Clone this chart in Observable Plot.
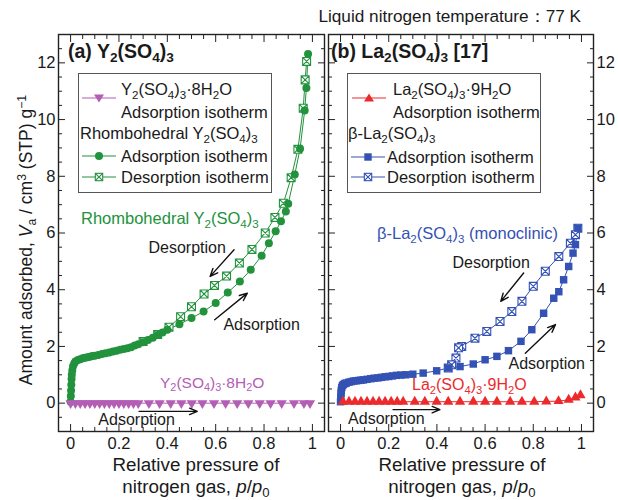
<!DOCTYPE html>
<html>
<head>
<meta charset="utf-8">
<script src="https://cdn.jsdelivr.net/npm/d3@7"></script>
<script src="https://cdn.jsdelivr.net/npm/@observablehq/plot@0.6"></script>
<style>
html,body{margin:0;padding:0;background:#fff;}
#wrap{position:relative;width:618px;height:500px;overflow:hidden;font-family:"Liberation Sans",Arial,Helvetica,sans-serif;color:#1a1a1a;background:#fff;}
.t{position:absolute;white-space:nowrap;line-height:1;}
.t sub{font-size:0.7em;vertical-align:-0.32em;line-height:0;}
.t sup{font-size:0.7em;vertical-align:0.5em;line-height:0;}
.legend{position:absolute;border:1px solid #555;background:#fff;box-sizing:border-box;}
</style>
</head>
<body>
<div id="wrap"></div>
<script>
// ---------- colours ----------
const green = "#22923d", magenta = "#b35db5", red = "#ec2a2c", blue = "#3451b4";

// ---------- (a) Y2(SO4)3 ----------
// Rhombohedral Y2(SO4)3, adsorption (filled circles)
const y2AnhAdsX = [0.000,0.001,0.002,0.003,0.004,0.005,0.007,0.010,0.015,0.020,0.030,0.040,0.050,0.060,0.070,0.080,0.090,0.100,0.115,0.130,0.145,0.160,0.175,0.190,0.205,0.220,0.235,0.250,0.265,0.280,0.300,0.320,0.340,0.360,0.380,0.400,0.450,0.500,0.550,0.600,0.650,0.700,0.745,0.790,0.820,0.848,0.870,0.890,0.900,0.927,0.949,0.968,0.975,0.982];
const y2AnhAdsY = [0.05,0.25,0.45,0.65,0.85,1.00,1.15,1.30,1.40,1.47,1.52,1.55,1.58,1.60,1.62,1.64,1.66,1.67,1.70,1.73,1.76,1.79,1.82,1.85,1.88,1.91,1.94,1.97,2.03,2.08,2.15,2.23,2.31,2.40,2.49,2.59,2.78,3.00,3.23,3.53,3.90,4.29,4.70,5.20,5.64,6.06,6.41,6.76,7.03,8.06,8.97,10.32,11.11,12.31];
// Rhombohedral Y2(SO4)3, desorption (boxed crosses)
const y2AnhDesX = [0.976,0.970,0.962,0.940,0.912,0.880,0.845,0.805,0.750,0.698,0.645,0.595,0.552,0.500,0.455,0.407,0.360,0.300];
const y2AnhDesY = [12.05,11.40,10.40,8.95,7.95,7.05,6.55,6.00,5.42,4.94,4.48,4.15,3.85,3.40,3.05,2.68,2.42,2.17];
// Y2(SO4)3·8H2O, adsorption (down triangles)
const y2HydAdsX = [0.000,0.020,0.040,0.060,0.080,0.100,0.120,0.140,0.160,0.180,0.200,0.220,0.240,0.260,0.280,0.324,0.368,0.414,0.458,0.501,0.545,0.593,0.641,0.689,0.735,0.782,0.827,0.873,0.924,0.965,0.990];
const y2HydAdsY = [0,0,0,0,0,0,0,0,0,0,0,0,0,0,0,0,0,0,0,0,0,0,0,0,0,0,0,0,0,0,0];

// ---------- (b) La2(SO4)3 ----------
// beta-La2(SO4)3, adsorption (filled squares)
const laBetaAdsX = [0.000,0.001,0.002,0.003,0.005,0.008,0.012,0.018,0.024,0.035,0.045,0.055,0.065,0.075,0.085,0.095,0.110,0.125,0.140,0.155,0.170,0.185,0.200,0.215,0.232,0.250,0.270,0.300,0.343,0.399,0.447,0.496,0.551,0.600,0.649,0.697,0.749,0.794,0.843,0.885,0.906,0.926,0.947,0.965,0.975,0.985];
const laBetaAdsY = [0.05,0.20,0.35,0.45,0.55,0.62,0.66,0.69,0.71,0.74,0.76,0.78,0.79,0.80,0.81,0.82,0.84,0.86,0.88,0.89,0.91,0.93,0.94,0.96,0.98,0.99,1.00,1.02,1.06,1.14,1.24,1.29,1.38,1.53,1.65,1.85,2.18,2.59,3.17,3.70,3.93,4.35,4.82,5.29,5.59,6.17];
// beta-La2(SO4)3, desorption (boxed crosses)
const laBetaDesX = [0.985,0.975,0.954,0.906,0.850,0.800,0.753,0.711,0.662,0.607,0.558,0.503,0.490,0.479,0.461,0.447];
const laBetaDesY = [6.17,5.94,5.64,5.17,4.65,4.12,3.59,3.23,2.88,2.53,2.29,2.00,1.95,1.59,1.35,1.24];
// La2(SO4)3·9H2O, adsorption (up triangles)
const laHydAdsX = [0.010,0.035,0.060,0.085,0.110,0.135,0.160,0.185,0.210,0.235,0.260,0.308,0.350,0.399,0.447,0.496,0.551,0.600,0.649,0.704,0.753,0.804,0.854,0.905,0.947,0.975,0.996];
const laHydAdsY = [0.05,0.05,0.05,0.05,0.05,0.05,0.05,0.05,0.05,0.05,0.05,0.05,0.05,0.05,0.05,0.05,0.05,0.05,0.05,0.05,0.05,0.05,0.06,0.07,0.12,0.20,0.28];

// ---------- ticks ----------
const xMajorTicks = [0, 0.2, 0.4, 0.6, 0.8, 1];
const xMinorTicks = [0.05,0.1,0.15,0.25,0.3,0.35,0.45,0.5,0.55,0.65,0.7,0.75,0.85,0.9,0.95];
const yMajorTicks = [0, 2, 4, 6, 8, 10, 12];
const yMinorTicks = [-0.5,0.5,1,1.5,2.5,3,3.5,4.5,5,5.5,6.5,7,7.5,8.5,9,9.5,10.5,11,11.5,12.5];

// ---------- annotations ----------
const arrowsLeft = [
  {x1:0.676, y1:5.41, x2:0.577, y2:4.47},
  {x1:0.596, y1:2.94, x2:0.731, y2:3.88},
  {x1:0.283, y1:-0.29, x2:0.524, y2:-0.29}
];
const arrowsRight = [
  {x1:0.760, y1:4.59, x2:0.665, y2:3.59},
  {x1:0.767, y1:1.76, x2:0.892, y2:2.77},
  {x1:0.218, y1:-0.23, x2:0.4125, y2:-0.23}
];
const notesLeft = [
  {x:0.482, y:5.47, text:"Desorption"},
  {x:0.790, y:2.77, text:"Adsorption"},
  {x:0.273, y:-0.59, text:"Adsorption"}
];
const notesRight = [
  {x:0.625, y:4.94, text:"Desorption"},
  {x:0.856, y:1.39, text:"Adsorption"},
  {x:0.190, y:-0.55, text:"Adsorption"}
];
const legendLeftLabels = ["Y<sub>2</sub>(SO<sub>4</sub>)<sub>3</sub>·8H<sub>2</sub>O","Adsorption isotherm","Rhombohedral Y<sub>2</sub>(SO<sub>4</sub>)<sub>3</sub>","Adsorption isotherm","Desorption isotherm"];
const legendRightLabels = ["La<sub>2</sub>(SO<sub>4</sub>)<sub>3</sub>·9H<sub>2</sub>O","Adsorption isotherm","β-La<sub>2</sub>(SO<sub>4</sub>)<sub>3</sub>","Adsorption isotherm","Desorption isotherm"];

// ---------- helpers ----------
const zip = (xs, ys) => xs.map((x, i) => ({x, y: ys[i]}));
const boxX = {
  draw(ctx, size) {
    const s = Math.sqrt(size / Math.PI) * 0.88;
    ctx.moveTo(-s, -s); ctx.lineTo(s, -s); ctx.lineTo(s, s); ctx.lineTo(-s, s); ctx.closePath();
    ctx.moveTo(-s, -s); ctx.lineTo(s, s);
    ctx.moveTo(s, -s); ctx.lineTo(-s, s);
  }
};
const wrap = document.getElementById("wrap");
function addPlot(p, left) {
  const d = document.createElement("div");
  d.style.cssText = `position:absolute;left:${left}px;top:0;`;
  d.appendChild(p);
  wrap.appendChild(d);
}
function addText(html, x, yc, fs, {anchor = "start", color = "#1a1a1a", weight = "normal"} = {}) {
  const d = document.createElement("div");
  d.className = "t";
  d.innerHTML = html;
  d.style.fontSize = fs + "px";
  d.style.color = color;
  d.style.fontWeight = weight;
  d.style.top = (yc - 0.49 * fs) + "px";
  if (anchor === "start") d.style.left = x + "px";
  else if (anchor === "middle") { d.style.left = x + "px"; d.style.transform = "translateX(-50%)"; }
  else d.style.right = (618 - x) + "px";
  wrap.appendChild(d);
  return d;
}
function legendSym(kind, color, x, yc) {
  let m = "";
  if (kind === "circle") m = `<circle cx="17" cy="7" r="4" fill="${color}"/>`;
  if (kind === "square") m = `<rect x="13.3" y="3.3" width="7.4" height="7.4" fill="${color}"/>`;
  if (kind === "boxx") m = `<rect x="13.3" y="3.3" width="7.4" height="7.4" fill="#fff" stroke="${color}" stroke-width="1.1"/><path d="M13.3,3.3L20.7,10.7M20.7,3.3L13.3,10.7" stroke="${color}" stroke-width="1.1"/>`;
  if (kind === "tridown") m = `<path d="M12,3.5L22,3.5L17,11.5Z" fill="${color}"/>`;
  if (kind === "triup") m = `<path d="M12,10.5L22,10.5L17,2.5Z" fill="${color}"/>`;
  const s = document.createElement("div");
  s.style.cssText = `position:absolute;left:${x}px;top:${yc - 7}px;width:34px;height:14px;`;
  s.innerHTML = `<svg width="34" height="14"><line x1="0" y1="7" x2="34" y2="7" stroke="${color}" stroke-width="1.2"/>${m}</svg>`;
  wrap.appendChild(s);
}

function panel({width, marginLeft, marginRight, labelSide, marks}) {
  const ink = "#222";
  const axes = [];
  for (const anchor of ["top", "bottom"]) {
    axes.push(Plot.axisX(xMinorTicks, {anchor, tickSize: -4, tickFormat: () => "", label: null, stroke: ink}));
    axes.push(Plot.axisX(xMajorTicks, {anchor, tickSize: -7, tickPadding: anchor === "bottom" ? 13 : 7,
      tickFormat: anchor === "bottom" ? (d => String(d)) : () => "", label: null, stroke: ink, fontSize: 16.5}));
  }
  for (const anchor of ["left", "right"]) {
    axes.push(Plot.axisY(yMinorTicks, {anchor, tickSize: -4, tickFormat: () => "", label: null, stroke: ink}));
    axes.push(Plot.axisY(yMajorTicks, {anchor, tickSize: -7, tickPadding: 10,
      tickFormat: anchor === labelSide ? (d => String(d)) : () => "", label: null, stroke: ink, fontSize: 16.5}));
  }
  return Plot.plot({
    width, height: 460, marginTop: 34, marginBottom: 29, marginLeft, marginRight,
    x: {domain: [-0.05, 1.05], label: null},
    y: {domain: [-1, 13], label: null},
    style: {fontFamily: '"Liberation Sans", Arial, sans-serif', fontSize: "16px", color: "#1a1a1a", background: "none", overflow: "visible"},
    marks: [...marks, ...axes, Plot.frame({stroke: ink, strokeWidth: 1.4})]
  });
}

// ---------- panel (a) ----------
const y2AnhAds = zip(y2AnhAdsX, y2AnhAdsY);
const y2AnhDes = zip(y2AnhDesX, y2AnhDesY);
const y2HydAds = zip(y2HydAdsX, y2HydAdsY);
const left = panel({
  width: 326, marginLeft: 58, marginRight: 2, labelSide: "left",
  marks: [
    Plot.line(y2AnhDes, {x: "x", y: "y", stroke: green, strokeWidth: 1}),
    Plot.line(y2AnhAds, {x: "x", y: "y", stroke: green, strokeWidth: 1}),
    Plot.dot(y2AnhDes, {x: "x", y: "y", symbol: boxX, r: 4.5, fill: "white", stroke: green, strokeWidth: 1.1}),
    Plot.dot(y2AnhAds, {x: "x", y: "y", r: 4, fill: green}),
    Plot.line(y2HydAds, {x: "x", y: "y", stroke: magenta, strokeWidth: 1}),
    Plot.dot(y2HydAds, {x: "x", y: "y", symbol: "triangle", rotate: 180, r: 3.8, fill: magenta}),
    Plot.arrow(arrowsLeft, {x1: "x1", y1: "y1", x2: "x2", y2: "y2", stroke: "#111", strokeWidth: 1.4, headLength: 9, headAngle: 45}),
    Plot.text(notesLeft, {x: "x", y: "y", text: "text", fontSize: 16, fill: "#1a1a1a"})
  ]
});
addPlot(left, 0);

// ---------- panel (b) ----------
const laBetaAds = zip(laBetaAdsX, laBetaAdsY);
const laBetaDes = zip(laBetaDesX, laBetaDesY);
const laHydAds = zip(laHydAdsX, laHydAdsY);
const right = panel({
  width: 292, marginLeft: 2, marginRight: 25, labelSide: "right",
  marks: [
    Plot.line(laBetaDes, {x: "x", y: "y", stroke: blue, strokeWidth: 1}),
    Plot.line(laBetaAds, {x: "x", y: "y", stroke: blue, strokeWidth: 1}),
    Plot.dot(laBetaDes, {x: "x", y: "y", symbol: boxX, r: 4.5, fill: "white", stroke: blue, strokeWidth: 1.1}),
    Plot.dot(laBetaAds, {x: "x", y: "y", symbol: "square", r: 4.2, fill: blue}),
    Plot.line(laHydAds, {x: "x", y: "y", stroke: red, strokeWidth: 1}),
    Plot.dot(laHydAds, {x: "x", y: "y", symbol: "triangle", r: 3.8, fill: red}),
    Plot.arrow(arrowsRight, {x1: "x1", y1: "y1", x2: "x2", y2: "y2", stroke: "#111", strokeWidth: 1.4, headLength: 9, headAngle: 45}),
    Plot.text(notesRight, {x: "x", y: "y", text: "text", fontSize: 16, fill: "#1a1a1a"})
  ]
});
addPlot(right, 326);

// ---------- texts ----------
addText("Liquid nitrogen temperature：77 K", 581, 16, 17.2, {anchor: "end"});
addText("(a) Y<sub>2</sub>(SO<sub>4</sub>)<sub>3</sub>", 68, 52, 19.5, {weight: "bold"});
addText("(b) La<sub>2</sub>(SO<sub>4</sub>)<sub>3</sub> [17]", 331, 52, 19.5, {weight: "bold"});

// legends
const lb1 = document.createElement("div"); lb1.className = "legend";
lb1.style.cssText += "left:78px;top:73px;width:194px;height:120px;";
wrap.appendChild(lb1);
const lb2 = document.createElement("div"); lb2.className = "legend";
lb2.style.cssText += "left:347px;top:73px;width:194px;height:120px;";
wrap.appendChild(lb2);

legendSym("tridown", magenta, 82, 98);
addText(legendLeftLabels[0], 121, 89, 16.5);
addText(legendLeftLabels[1], 121, 112, 16.5);
addText(legendLeftLabels[2], 80, 133, 16.5);
legendSym("circle", green, 82, 156);
addText(legendLeftLabels[3], 121, 156, 16.5);
legendSym("boxx", green, 82, 177);
addText(legendLeftLabels[4], 121, 177, 16.5);

legendSym("triup", red, 352, 98);
addText(legendRightLabels[0], 393, 89, 16.5);
addText(legendRightLabels[1], 393, 112, 16.5);
addText(legendRightLabels[2], 348, 133, 16.5);
legendSym("square", blue, 351, 157);
addText(legendRightLabels[3], 387, 157, 16.5);
legendSym("boxx", blue, 351, 177);
addText(legendRightLabels[4], 387, 177, 16.5);

// in-plot coloured labels
addText("Rhombohedral Y<sub>2</sub>(SO<sub>4</sub>)<sub>3</sub>", 81, 218, 16.5, {color: green});
addText("Y<sub>2</sub>(SO<sub>4</sub>)<sub>3</sub>·8H<sub>2</sub>O", 160, 383, 15.5, {color: magenta});
addText("β-La<sub>2</sub>(SO<sub>4</sub>)<sub>3</sub> (monoclinic)", 377, 233, 16.5, {color: blue});
addText("La<sub>2</sub>(SO<sub>4</sub>)<sub>3</sub>·9H<sub>2</sub>O", 412, 385, 16, {color: red});

// axis titles
addText("Relative pressure of", 196, 465, 18.8, {anchor: "middle"});
addText("nitrogen gas, <i>p</i>/<i>p</i><sub>0</sub>", 196, 487, 18.8, {anchor: "middle"});
addText("Relative pressure of", 462, 465, 18.8, {anchor: "middle"});
addText("nitrogen gas, <i>p</i>/<i>p</i><sub>0</sub>", 462, 487, 18.8, {anchor: "middle"});
const yt = document.createElement("div");
yt.className = "t";
yt.style.cssText += "left:27px;top:240px;font-size:17.5px;transform:translate(-50%,-50%) rotate(-90deg);";
yt.innerHTML = "Amount adsorbed, <i>V</i><sub>a</sub> / cm<sup>3</sup> (STP) g<sup>−1</sup>";
wrap.appendChild(yt);
</script>
</body>
</html>
